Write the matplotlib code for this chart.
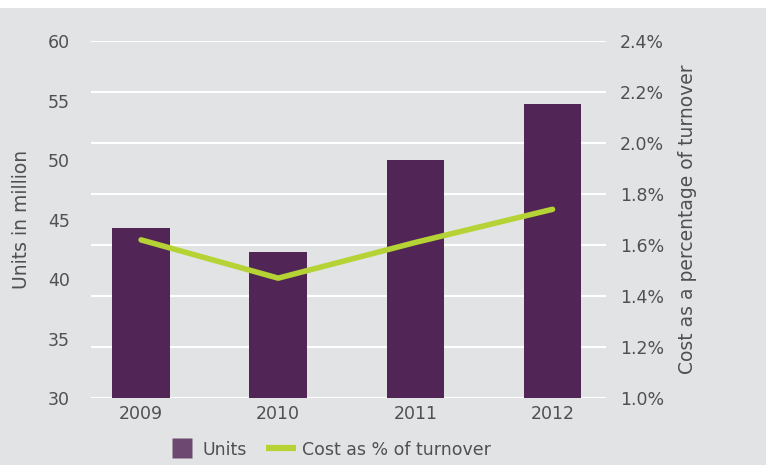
import matplotlib.pyplot as plt
from matplotlib.patches import Rectangle
from matplotlib.lines import Line2D
from matplotlib.ticker import FuncFormatter

years = ["2009", "2010", "2011", "2012"]
units = [44.3, 42.3, 50.0, 54.7]          # units in million
cost_pct = [1.62, 1.47, 1.61, 1.74]      # cost as % of turnover
left_ticks = [30, 35, 40, 45, 50, 55, 60]
right_ticks = [1.0, 1.2, 1.4, 1.6, 1.8, 2.0, 2.2, 2.4]

bg = "#e2e3e5"
bar_col = "#512555"
line_col = "#b5d334"
txt = "#505050"

plt.rcParams["font.family"] = ["DejaVu Sans"]

fig = plt.figure(figsize=(7.66, 4.65), dpi=100, facecolor=bg)
# white strip across the top
fig.patches.append(Rectangle((0, 1 - 8 / 465), 1, 8 / 465, transform=fig.transFigure,
                             facecolor="white", edgecolor="none", zorder=0))

ax = fig.add_axes([91 / 766, 1 - 398 / 465, 515 / 766, 357 / 465])
ax.set_facecolor(bg)
x = list(range(len(years)))

ax2 = ax.twinx()
ax.set_zorder(1)
ax.patch.set_visible(False)
ax2.set_zorder(0)
ax2.set_ylim(1.0, 2.4)
ax2.set_yticks(right_ticks)
ax2.yaxis.set_major_formatter(FuncFormatter(lambda v, p: f"{v:.1f}%"))
ax2.grid(axis="y", color="white", linewidth=1.5)
ax2.tick_params(axis="y", length=0, pad=10, labelsize=12.5, labelcolor=txt)
ax2.set_ylabel("Cost as a percentage of turnover", fontsize=13.5, color=txt, labelpad=10)

bars = ax.bar(x, units, width=0.42, color=bar_col, zorder=2, label="Units")
ax.set_ylim(30, 60)
ax.set_yticks(left_ticks)
ax.set_xlim(-0.365, 3.39)
ax.set_xticks(x)
ax.set_xticklabels(years)
ax.tick_params(axis="y", length=0, pad=15, labelsize=12.5, labelcolor=txt)
ax.tick_params(axis="x", length=0, pad=5, labelsize=12.5, labelcolor=txt)
ax.set_ylabel("Units in million", fontsize=13.5, color=txt, labelpad=12)

# line drawn on the right axis scale but above bars
line_y = [ax.transData.inverted().transform(ax2.transData.transform((xi, c)))[1]
          for xi, c in zip(x, cost_pct)]
ln, = ax.plot(x, line_y, color=line_col, linewidth=4, solid_capstyle="round", zorder=3,
              label="Cost as % of turnover")

for a in (ax, ax2):
    for s in a.spines.values():
        s.set_visible(False)

units_handle = Line2D([], [], linestyle="none", marker="s", markersize=14.4,
                      markerfacecolor="#6d4870", markeredgecolor="none")
cost_handle = Line2D([], [], color=line_col, linewidth=4.5, solid_capstyle="butt")
fig.legend([units_handle, cost_handle], ["Units", "Cost as % of turnover"], loc="center",
           bbox_to_anchor=(329 / 766, 1 - 450 / 465), ncol=2, frameon=False,
           fontsize=12.5, labelcolor=txt, handlelength=1.72, handleheight=1.0,
           columnspacing=1.1, handletextpad=0.34)

fig.savefig("out.png", dpi=100, facecolor=bg)
